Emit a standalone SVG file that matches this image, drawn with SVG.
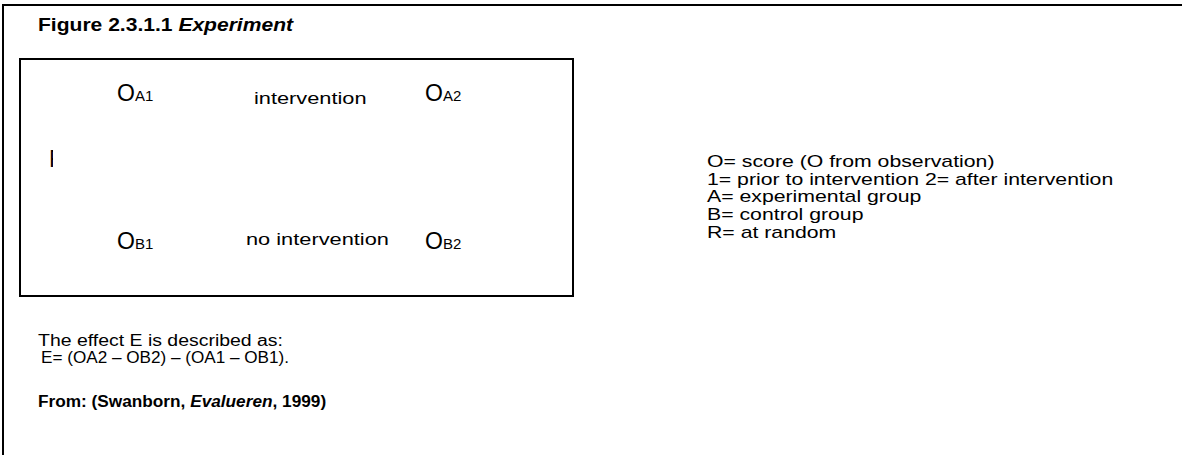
<svg xmlns="http://www.w3.org/2000/svg" width="1182" height="455" viewBox="0 0 1182 455">
  <style>
    .t { font-family: "Liberation Sans", Arial, sans-serif; fill: #000; }
    .legend { font-size: 15.8px; }
    .label { font-size: 16.2px; }
    .note { font-size: 15.6px; }
    .big { font-size: 23px; }
    .sub { font-size: 15px; }
    .title { font-weight: bold; font-size: 18px; }
    .cite { font-weight: bold; font-size: 16.5px; }
    .frame { fill: none; stroke: #000; stroke-width: 2; }
  </style>
  <defs>
    <clipPath id="rClip">
      <rect x="48" y="140" width="5" height="30"/>
    </clipPath>
  </defs>

  <!-- page frame: top and left rules -->
  <g id="page-frame">
    <path class="frame" d="M3 455 V5 H1182"/>
  </g>

  <!-- text runs are set wide: scaled horizontally about their start point -->
  <g id="title">
    <text class="t title" transform="translate(38,31) scale(1.17,1)">Figure 2.3.1.1 <tspan font-style="italic">Experiment</tspan></text>
  </g>

  <!-- design box -->
  <g id="design-box">
    <rect class="frame" x="20" y="59" width="553" height="237"/>
  </g>

  <g id="node-OA1">
    <text class="t big" x="117" y="101">O<tspan class="sub">A1</tspan></text>
  </g>
  <g id="node-intervention">
    <text class="t label" transform="translate(254,104) scale(1.345,1)">intervention</text>
  </g>
  <g id="node-OA2">
    <text class="t big" x="425" y="101">O<tspan class="sub">A2</tspan></text>
  </g>

  <!-- partially hidden R (random assignment) -->
  <g id="node-R">
    <text class="t big" x="49" y="167" clip-path="url(#rClip)">R</text>
  </g>

  <g id="node-OB1">
    <text class="t big" x="117" y="249">O<tspan class="sub">B1</tspan></text>
  </g>
  <g id="node-no-intervention">
    <text class="t label" transform="translate(246,245) scale(1.345,1)">no intervention</text>
  </g>
  <g id="node-OB2">
    <text class="t big" x="425" y="249">O<tspan class="sub">B2</tspan></text>
  </g>

  <g id="connectors"></g>

  <!-- legend -->
  <g id="legend">
    <text class="t legend" transform="translate(707,167) scale(1.345,1)">O= score (O from observation)</text>
    <text class="t legend" transform="translate(707,184.7) scale(1.345,1)">1= prior to intervention 2= after intervention</text>
    <text class="t legend" transform="translate(707,202.4) scale(1.345,1)">A= experimental group</text>
    <text class="t legend" transform="translate(707,220.1) scale(1.345,1)">B= control group</text>
    <text class="t legend" transform="translate(707,237.8) scale(1.345,1)">R= at random</text>
  </g>

  <g id="effect">
    <text class="t note" x="38" y="346" textLength="245" lengthAdjust="spacingAndGlyphs">The effect E is described as:</text>
    <text class="t note" x="41" y="363" textLength="248" lengthAdjust="spacingAndGlyphs">E= (OA2 – OB2) – (OA1 – OB1).</text>
  </g>

  <g id="source">
    <text class="t cite" transform="translate(38,407) scale(1.045,1)">From: (Swanborn, <tspan font-style="italic">Evalueren</tspan>, 1999)</text>
  </g>
</svg>
